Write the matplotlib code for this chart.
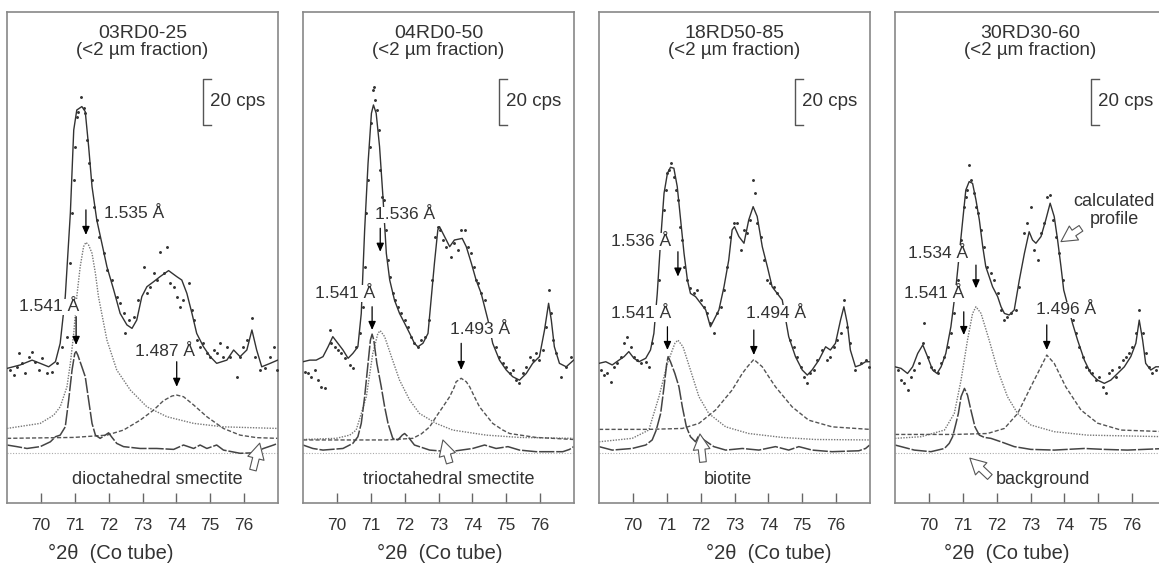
import matplotlib
matplotlib.use("Agg")
import matplotlib.pyplot as plt

plt.rcParams['font.family'] = ['Liberation Sans', 'DejaVu Sans']

# ---- panel titles / labels ----
titles = ['03RD0-25', '04RD0-50', '18RD50-85', '30RD30-60']
phase_labels = ['dioctahedral smectite', 'trioctahedral smectite', 'biotite', 'background']
tick_vals = [70, 71, 72, 73, 74, 75, 76]

# ---- panel 1: 03RD0-25 ----
p1_prof_x = [69.00, 69.39, 69.74, 69.98, 70.23, 70.43, 70.57, 70.72, 70.87, 70.97, 71.06, 71.21, 71.31, 71.41,
             71.51, 71.65, 71.80, 71.95, 72.15, 72.34, 72.54, 72.69, 72.83, 72.98, 73.13, 73.33, 73.52, 73.77,
             74.01, 74.16, 74.31, 74.46, 74.60, 74.80, 75.00, 75.19, 75.49, 75.69, 75.88, 76.08, 76.23, 76.37,
             76.52, 76.77, 76.99]
p1_prof_y = [36.8, 38.3, 40.4, 39.0, 37.5, 39.7, 47.7, 68.0, 104.2, 140.4, 149.1, 150.6, 148.4, 133.2,
             115.8, 101.3, 91.2, 81.0, 70.9, 60.7, 55.7, 54.2, 57.8, 68.0, 72.3, 74.5, 76.7, 79.3,
             76.7, 75.2, 69.4, 60.7, 52.0, 46.2, 41.9, 39.0, 40.4, 44.8, 41.9, 44.8, 53.5, 44.8,
             37.5, 39.0, 40.4]
p1_dots_x = [69.10, 69.20, 69.29, 69.34, 69.44, 69.54, 69.64, 69.74, 69.84, 69.93, 70.03, 70.18, 70.33, 70.47,
             70.62, 70.77, 70.82, 70.87, 70.92, 70.97, 71.02, 71.06, 71.11, 71.18, 71.26, 71.31, 71.36, 71.41,
             71.51, 71.58, 71.65, 71.73, 71.85, 71.95, 72.10, 72.24, 72.34, 72.44, 72.49, 72.59, 72.74, 72.88,
             73.03, 73.13, 73.23, 73.33, 73.42, 73.52, 73.62, 73.72, 73.82, 73.92, 74.01, 74.11, 74.21, 74.36,
             74.46, 74.51, 74.60, 74.70, 74.80, 74.90, 75.00, 75.10, 75.19, 75.29, 75.39, 75.49, 75.59, 75.78,
             75.88, 75.98, 76.08, 76.23, 76.33, 76.47, 76.62, 76.77, 76.87, 76.96]
p1_dots_y = [36.1, 33.9, 37.5, 43.3, 39.0, 34.6, 41.9, 44.1, 39.7, 36.1, 41.2, 34.6, 35.4, 39.0,
             46.2, 50.6, 62.2, 82.5, 104.2, 118.7, 133.2, 146.2, 148.4, 154.9, 149.9, 147.7, 136.1, 125.9,
             118.7, 107.1, 101.3, 94.1, 86.8, 79.6, 75.2, 68.0, 65.1, 60.7, 52.0, 57.8, 59.3, 66.5,
             81.0, 69.4, 72.3, 78.1, 75.2, 87.5, 78.1, 89.7, 73.8, 72.3, 68.0, 63.6, 66.5, 73.8,
             62.2, 57.8, 49.1, 46.2, 47.7, 43.3, 41.9, 44.8, 43.3, 47.7, 41.9, 46.2, 41.9, 33.2,
             41.9, 46.2, 49.1, 58.6, 41.9, 36.1, 36.8, 41.9, 46.2, 36.1]
# 1.541 A component (with residual)
p1_a_x = [69.00, 69.29, 69.59, 69.98, 70.28, 70.43, 70.57, 70.72, 70.82, 70.92, 71.00, 71.04, 71.09, 71.21,
          71.31, 71.41, 71.51, 71.61, 71.75, 71.90, 72.00, 72.10, 72.24, 72.44, 72.93, 73.42, 73.92, 74.21,
          74.51, 74.70, 74.90, 75.19, 75.39, 75.88, 76.28, 76.57, 76.87, 76.99]
p1_a_y = [3.5, 2.8, 2.0, 2.8, 4.9, 7.1, 7.8, 11.4, 23.0, 36.1, 43.3, 44.1, 42.6, 37.5,
          33.2, 23.0, 12.9, 7.8, 6.4, 7.8, 8.8, 6.8, 4.2, 2.8, 2.0, 2.0, 1.6, 3.5,
          2.0, 3.5, 2.0, 3.5, 1.3, -0.1, 0.1, 2.0, 3.5, 4.2]
# 1.535 A component
p1_b_x = [69.00, 69.98, 70.38, 70.57, 70.77, 70.87, 70.97, 71.06, 71.16, 71.26, 71.33, 71.41, 71.51, 71.61,
          71.70, 71.95, 72.24, 72.64, 73.13, 73.72, 74.51, 75.39, 76.99]
p1_b_y = [10.7, 12.9, 16.5, 20.1, 28.8, 39.0, 52.0, 68.0, 80.9, 89.7, 91.6, 90.4, 86.8, 78.1,
          68.0, 49.1, 36.1, 27.4, 20.1, 15.8, 12.9, 11.4, 10.7]
# 1.487 A component
p1_c_x = [69.00, 70.97, 71.95, 72.44, 72.93, 73.33, 73.62, 73.87, 74.01, 74.21, 74.51, 74.90, 75.39, 75.88,
          76.37, 76.99]
p1_c_y = [6.4, 6.8, 7.8, 10.0, 14.3, 18.7, 22.8, 24.8, 25.2, 24.5, 20.9, 15.8, 10.7, 7.8,
          6.7, 6.4]

# ---- panel 2: 04RD0-50 ----
p2_prof_x = [69.00, 69.20, 69.39, 69.59, 69.74, 69.88, 70.03, 70.18, 70.33, 70.47, 70.62, 70.72, 70.82, 70.92,
             71.02, 71.08, 71.16, 71.26, 71.36, 71.46, 71.56, 71.70, 71.85, 72.00, 72.15, 72.29, 72.39, 72.54,
             72.69, 72.79, 72.88, 72.98, 73.03, 73.13, 73.33, 73.47, 73.70, 73.82, 73.97, 74.11, 74.26, 74.36,
             74.46, 74.60, 74.80, 75.00, 75.19, 75.39, 75.59, 75.78, 75.98, 76.13, 76.25, 76.33, 76.42, 76.57,
             76.77, 76.99]
p2_prof_y = [39.7, 40.4, 40.4, 41.9, 46.2, 50.6, 47.7, 44.8, 41.2, 43.3, 46.2, 60.7, 97.0, 125.9,
             147.7, 151.3, 147.7, 133.2, 111.4, 86.8, 75.2, 66.5, 60.7, 56.4, 52.0, 47.7, 46.2, 47.7,
             52.0, 68.0, 82.5, 97.0, 98.4, 95.5, 89.7, 92.6, 93.3, 89.7, 82.5, 75.2, 69.4, 63.6,
             57.8, 47.7, 40.4, 36.1, 33.2, 31.7, 34.6, 39.0, 41.9, 53.5, 65.1, 57.8, 46.2, 39.0,
             37.5, 40.4]
p2_dots_x = [69.05, 69.15, 69.25, 69.34, 69.44, 69.54, 69.64, 69.79, 69.84, 69.93, 70.03, 70.13, 70.23, 70.38,
             70.47, 70.57, 70.67, 70.77, 70.82, 70.87, 70.92, 70.97, 71.02, 71.06, 71.11, 71.14, 71.18, 71.24,
             71.28, 71.34, 71.38, 71.44, 71.51, 71.58, 71.65, 71.73, 71.80, 71.90, 72.00, 72.10, 72.20, 72.29,
             72.39, 72.49, 72.59, 72.72, 72.82, 72.89, 72.98, 73.05, 73.13, 73.23, 73.38, 73.47, 73.57, 73.67,
             73.77, 73.87, 73.97, 74.06, 74.11, 74.16, 74.26, 74.36, 74.70, 74.80, 74.90, 75.00, 75.10, 75.19,
             75.29, 75.39, 75.49, 75.59, 75.69, 75.78, 75.88, 75.98, 76.08, 76.18, 76.25, 76.33, 76.37, 76.47,
             76.62, 76.77, 76.92]
p2_dots_y = [35.4, 34.6, 33.2, 36.1, 31.7, 28.8, 28.1, 53.5, 47.7, 46.2, 44.8, 43.3, 41.2, 38.3,
             36.8, 46.2, 52.0, 63.6, 81.0, 104.2, 118.7, 133.2, 143.3, 157.8, 159.3, 153.5, 149.1, 140.4,
             123.0, 111.4, 110.0, 97.0, 83.9, 76.7, 69.4, 66.5, 63.6, 60.7, 57.8, 54.9, 50.6, 47.7,
             46.2, 49.1, 50.6, 57.8, 75.2, 94.1, 98.4, 97.0, 92.6, 89.7, 85.4, 91.2, 88.3, 97.0,
             97.0, 89.7, 86.8, 81.0, 75.2, 73.8, 69.4, 66.5, 46.2, 41.9, 39.0, 37.5, 34.6, 36.1,
             31.7, 30.3, 34.6, 37.5, 41.9, 40.4, 43.3, 40.4, 44.8, 54.9, 70.9, 60.7, 49.1, 43.3,
             33.2, 37.5, 41.9]
p2_a_x = [69.00, 69.29, 69.59, 70.18, 70.47, 70.62, 70.72, 70.82, 70.92, 70.99, 71.04, 71.09, 71.18, 71.31,
          71.41, 71.51, 71.65, 71.80, 71.93, 72.00, 72.10, 72.29, 72.74, 73.33, 74.01, 74.36, 74.70, 75.05,
          75.39, 75.88, 76.67, 76.87, 76.99]
p2_a_y = [3.5, 2.0, 1.3, 2.0, 4.2, 7.1, 12.9, 24.5, 39.0, 49.1, 51.7, 49.1, 39.0, 28.8,
          20.1, 12.9, 6.4, 5.7, 7.8, 8.5, 7.1, 3.5, 1.3, 0.6, 2.0, 3.5, 2.0, 2.8,
          1.3, 0.6, 0.6, 1.6, 2.8]
p2_b_x = [69.00, 69.98, 70.38, 70.57, 70.72, 70.87, 71.06, 71.21, 71.28, 71.41, 71.61, 71.85, 72.15, 72.44,
          72.93, 73.42, 74.41, 75.39, 76.99]
p2_b_y = [5.9, 6.4, 7.8, 10.0, 17.2, 24.5, 43.3, 52.0, 53.2, 50.6, 41.9, 31.7, 23.0, 17.2,
          12.9, 10.0, 7.8, 6.8, 6.4]
p2_c_x = [69.00, 71.46, 72.24, 72.49, 72.74, 72.93, 73.13, 73.33, 73.47, 73.52, 73.67, 73.82, 73.92, 74.06,
          74.21, 74.60, 74.90, 75.10, 75.88, 76.99]
p2_c_y = [5.7, 5.7, 6.4, 8.3, 11.4, 15.8, 20.1, 24.5, 28.8, 31.0, 32.5, 31.0, 28.8, 24.5,
          20.1, 12.9, 10.0, 8.5, 6.8, 5.9]

# ---- panel 3: 18RD50-85 ----
p3_prof_x = [69.00, 69.20, 69.39, 69.59, 69.74, 69.88, 70.03, 70.18, 70.38, 70.52, 70.62, 70.72, 70.82, 70.92,
             71.02, 71.11, 71.21, 71.31, 71.41, 71.51, 71.61, 71.70, 71.85, 72.00, 72.15, 72.29, 72.39, 72.54,
             72.69, 72.83, 72.93, 73.00, 73.13, 73.28, 73.42, 73.55, 73.67, 73.82, 73.97, 74.11, 74.26, 74.41,
             74.60, 74.80, 75.00, 75.15, 75.29, 75.49, 75.69, 75.83, 75.98, 76.13, 76.23, 76.33, 76.42, 76.57,
             76.72, 76.87, 76.99]
p3_prof_y = [39.0, 39.7, 38.3, 40.4, 41.9, 44.1, 41.2, 39.7, 41.2, 44.8, 52.0, 69.4, 92.6, 112.9,
             121.6, 124.2, 123.8, 115.8, 101.3, 86.8, 75.2, 69.4, 68.0, 65.1, 62.2, 54.9, 57.8, 62.2,
             72.3, 83.9, 97.0, 98.4, 94.1, 91.2, 101.3, 107.1, 102.8, 89.7, 81.0, 72.3, 69.4, 66.5,
             50.6, 41.9, 36.1, 33.9, 36.1, 40.4, 46.2, 44.8, 47.7, 57.8, 63.6, 56.4, 44.8, 37.5,
             38.3, 39.7, 39.7]
p3_dots_x = [69.05, 69.15, 69.25, 69.34, 69.44, 69.54, 69.64, 69.74, 69.84, 69.93, 70.03, 70.13, 70.23, 70.38,
             70.47, 70.57, 70.67, 70.77, 70.85, 70.92, 70.97, 71.02, 71.08, 71.14, 71.21, 71.26, 71.32, 71.38,
             71.44, 71.51, 71.61, 71.70, 71.80, 71.90, 72.00, 72.10, 72.20, 72.29, 72.39, 72.49, 72.59, 72.69,
             72.79, 72.88, 72.98, 73.08, 73.18, 73.28, 73.38, 73.47, 73.55, 73.60, 73.67, 73.77, 73.87, 73.97,
             74.06, 74.16, 74.26, 74.46, 74.65, 74.75, 74.85, 74.95, 75.05, 75.15, 75.24, 75.34, 75.44, 75.59,
             75.74, 75.83, 75.93, 76.03, 76.13, 76.23, 76.33, 76.42, 76.57, 76.72, 76.87, 76.96]
p3_dots_y = [36.1, 33.9, 34.6, 31.0, 37.5, 39.0, 41.9, 47.7, 50.6, 46.2, 41.9, 40.4, 39.0, 39.7,
             37.5, 47.7, 57.8, 75.2, 92.6, 105.7, 114.3, 121.6, 123.0, 125.9, 120.1, 114.3, 110.0, 98.4,
             92.6, 81.0, 75.2, 71.6, 69.4, 70.9, 66.5, 63.6, 60.7, 56.4, 52.0, 60.7, 63.6, 70.9,
             81.0, 94.1, 99.9, 99.9, 88.3, 97.0, 95.5, 101.3, 118.7, 112.9, 99.9, 94.1, 83.9, 75.2,
             73.8, 72.3, 69.4, 57.8, 49.1, 46.2, 41.9, 37.5, 33.2, 30.3, 34.6, 36.1, 40.4, 44.8,
             40.4, 41.9, 46.2, 49.1, 52.0, 66.5, 54.9, 47.7, 36.1, 39.0, 40.4, 37.5]
p3_a_x = [69.00, 69.39, 69.98, 70.38, 70.57, 70.69, 70.82, 70.92, 71.00, 71.04, 71.11, 71.24, 71.36, 71.46,
          71.58, 71.70, 71.85, 71.95, 72.10, 72.39, 72.74, 73.23, 73.72, 74.21, 74.60, 74.90, 75.29, 75.88,
          76.67, 76.87, 76.99]
p3_a_y = [2.8, 1.3, 2.0, 3.5, 5.7, 10.0, 17.2, 28.8, 39.0, 41.9, 39.7, 34.6, 28.8, 20.1,
          11.4, 7.1, 4.9, 7.8, 5.7, 2.8, 1.3, 2.0, 1.3, 2.8, 1.3, 2.8, 1.3, 0.6,
          1.0, 2.0, 3.5]
p3_b_x = [69.00, 69.98, 70.47, 70.77, 71.02, 71.24, 71.33, 71.48, 71.70, 71.95, 72.24, 72.74, 73.42, 74.41,
          75.39, 76.99]
p3_b_y = [4.9, 6.4, 10.0, 24.5, 39.0, 47.7, 49.1, 46.2, 36.1, 24.5, 17.2, 11.4, 8.5, 6.8,
          5.9, 5.7]
p3_c_x = [69.00, 70.47, 71.46, 71.95, 72.44, 72.93, 73.23, 73.38, 73.57, 73.82, 74.01, 74.21, 74.70, 75.19,
          75.88, 76.99]
p3_c_y = [10.3, 10.3, 10.7, 12.9, 18.7, 27.4, 34.6, 37.5, 40.7, 37.5, 33.2, 28.8, 20.1, 14.3,
          11.4, 10.3]

# ---- panel 4: 30RD30-60 ----
p4_prof_x = [69.00, 69.18, 69.37, 69.52, 69.67, 69.82, 69.96, 70.11, 70.24, 70.36, 70.50, 70.65, 70.80, 70.90,
             71.00, 71.09, 71.19, 71.29, 71.39, 71.49, 71.59, 71.68, 71.78, 71.88, 72.03, 72.13, 72.23, 72.37,
             72.52, 72.67, 72.82, 72.96, 73.06, 73.16, 73.31, 73.45, 73.58, 73.70, 73.80, 73.90, 73.98, 74.24,
             74.39, 74.59, 74.78, 74.98, 75.18, 75.37, 75.57, 75.77, 75.96, 76.11, 76.21, 76.31, 76.40, 76.55,
             76.70, 77.00]
p4_prof_y = [37.5, 36.8, 34.6, 37.5, 43.3, 47.0, 41.9, 36.1, 34.6, 37.5, 43.3, 54.9, 72.3, 86.8,
             101.3, 114.3, 118.0, 117.2, 110.0, 101.3, 89.7, 81.0, 76.7, 72.3, 68.0, 63.6, 60.7, 60.0,
             62.2, 75.2, 86.8, 96.2, 92.6, 91.2, 94.1, 101.3, 108.6, 102.8, 92.6, 81.0, 70.9, 56.4,
             49.1, 40.4, 34.6, 31.7, 30.3, 31.7, 34.6, 37.5, 41.9, 47.7, 57.8, 49.1, 39.0, 36.1,
             37.5, 37.5]
p4_dots_x = [69.08, 69.18, 69.28, 69.37, 69.47, 69.57, 69.72, 69.82, 69.87, 69.96, 70.06, 70.16, 70.26, 70.36,
             70.46, 70.55, 70.65, 70.75, 70.85, 70.95, 71.03, 71.09, 71.14, 71.19, 71.24, 71.32, 71.39, 71.46,
             71.54, 71.64, 71.73, 71.83, 71.93, 72.03, 72.13, 72.23, 72.32, 72.42, 72.57, 72.67, 72.82, 72.91,
             73.01, 73.11, 73.21, 73.31, 73.41, 73.50, 73.58, 73.65, 73.75, 73.85, 73.95, 74.24, 74.34, 74.44,
             74.54, 74.63, 74.73, 74.83, 74.93, 75.03, 75.13, 75.22, 75.32, 75.42, 75.52, 75.62, 75.72, 75.81,
             75.91, 76.01, 76.11, 76.21, 76.31, 76.40, 76.50, 76.60, 76.70]
p4_dots_y = [36.1, 31.7, 30.3, 27.4, 33.2, 36.1, 39.0, 47.7, 56.4, 41.9, 37.5, 36.1, 34.6, 39.0,
             41.9, 46.2, 52.0, 60.7, 75.2, 92.6, 107.1, 111.4, 114.3, 125.2, 118.7, 112.9, 107.1, 104.2,
             97.0, 89.7, 81.0, 78.1, 75.2, 69.4, 62.2, 57.8, 59.3, 60.7, 62.2, 72.3, 95.5, 99.9,
             107.1, 88.3, 83.9, 95.5, 99.9, 111.4, 112.2, 101.3, 94.1, 86.8, 75.2, 57.8, 52.0, 46.2,
             41.9, 37.5, 36.1, 34.6, 31.7, 33.2, 28.8, 25.9, 34.6, 36.1, 33.2, 37.5, 40.4, 41.9,
             43.3, 46.2, 52.0, 62.2, 52.0, 43.3, 37.5, 34.6, 36.1]
p4_a_x = [69.00, 69.57, 70.06, 70.46, 70.60, 70.70, 70.80, 70.87, 70.95, 71.05, 71.14, 71.24, 71.36, 71.49,
          71.64, 71.83, 72.13, 72.52, 73.01, 73.70, 74.59, 75.17, 75.86, 77.00]
p4_a_y = [3.5, 1.3, 0.6, 2.0, 4.2, 7.1, 12.9, 17.2, 24.5, 28.1, 25.2, 18.7, 11.4, 7.8,
          6.8, 6.4, 4.9, 2.8, 1.6, 1.3, 2.0, 1.6, 1.3, 2.0]
p4_b_x = [69.00, 69.77, 70.46, 70.75, 70.95, 71.14, 71.29, 71.39, 71.54, 71.78, 72.03, 72.32, 72.62, 73.01,
          73.70, 74.68, 77.00]
p4_b_y = [6.4, 7.1, 10.0, 17.2, 31.7, 49.1, 60.7, 63.6, 60.7, 49.1, 36.1, 24.5, 17.2, 12.2,
          9.3, 7.8, 7.1]
p4_c_x = [69.00, 70.75, 71.73, 72.23, 72.62, 73.01, 73.36, 73.48, 73.70, 74.04, 74.49, 74.98, 75.67, 77.00]
p4_c_y = [8.1, 8.1, 8.5, 10.7, 17.2, 28.8, 39.0, 42.6, 39.0, 28.8, 18.7, 13.0, 10.0, 9.3]

# peak annotations: (text, text x, text y, arrow x, arrow top y, arrow bottom y)
p1_peaks = [('1.535 Å', 71.85, 104.2, 71.33, 105.7, 94.8),
            ('1.541 Å', 69.34, 63.6, 71.04, 59.3, 47.0),
            ('1.487 Å', 72.79, 44.1, 74.01, 39.7, 28.8)]
p2_peaks = [('1.536 Å', 71.14, 103.5, 71.28, 97.7, 87.5),
            ('1.541 Å', 69.34, 69.4, 71.04, 63.6, 53.5),
            ('1.493 Å', 73.33, 53.5, 73.67, 47.7, 36.1)]
p3_peaks = [('1.536 Å', 69.34, 91.9, 71.33, 87.5, 76.7),
            ('1.541 Å', 69.34, 60.7, 71.02, 54.9, 44.8),
            ('1.494 Å', 73.33, 60.7, 73.57, 53.5, 42.6)]
p4_peaks = [('1.534 Å', 69.37, 86.8, 71.39, 81.7, 71.6),
            ('1.541 Å', 69.28, 69.4, 71.03, 61.4, 51.3),
            ('1.496 Å', 73.16, 62.2, 73.48, 55.7, 44.8)]

# phase label position (x centre, y) and hollow arrow (tail x, tail y, tip x, tip y)
phase_pos = [(73.44, -11.7), (73.29, -11.7), (72.81, -11.7), (73.38, -11.7)]
open_arrows = [(76.26, -7.4, 76.46, 4.3), (73.33, -4.3, 73.13, 5.7),
               (72.07, -3.9, 71.98, 8.3), (71.80, -10.4, 71.21, -2.2)]
xlabel_pos = [0.384, 0.506, 0.627, 0.413]

panels = [
    (p1_prof_x, p1_prof_y, p1_dots_x, p1_dots_y, p1_a_x, p1_a_y, p1_b_x, p1_b_y, p1_c_x, p1_c_y, p1_peaks),
    (p2_prof_x, p2_prof_y, p2_dots_x, p2_dots_y, p2_a_x, p2_a_y, p2_b_x, p2_b_y, p2_c_x, p2_c_y, p2_peaks),
    (p3_prof_x, p3_prof_y, p3_dots_x, p3_dots_y, p3_a_x, p3_a_y, p3_b_x, p3_b_y, p3_c_x, p3_c_y, p3_peaks),
    (p4_prof_x, p4_prof_y, p4_dots_x, p4_dots_y, p4_a_x, p4_a_y, p4_b_x, p4_b_y, p4_c_x, p4_c_y, p4_peaks),
]

fig = plt.figure(figsize=(11.59, 5.64), dpi=100)
lefts = [7, 303, 599, 895]
txt = '#333333'
hollow = 'simple,head_length=0.7,head_width=0.75,tail_width=0.3'

for i, (px, py, dx, dy, ax_, ay_, bx, by, cx, cy, peaks) in enumerate(panels):
    ax = fig.add_axes([lefts[i] / 1159, 61 / 564, 271 / 1159, 491 / 564])
    ax.set_xlim(69, 77)
    ax.set_ylim(-21.7, 191.7)

    ax.axhline(0, color='#aaaaaa', lw=0.8, ls=(0, (1, 1.5)), zorder=1)
    ax.plot(bx, by, color='#777777', lw=1.0, ls=(0, (1, 1)), zorder=2)
    ax.plot(cx, cy, color='#555555', lw=1.0, ls=(0, (3, 1.5)), zorder=2)
    ax.plot(ax_, ay_, color='#444444', lw=1.1, ls=(0, (10, 1.2)), zorder=2)
    ax.plot(px, py, color='#333333', lw=1.0, zorder=3)
    ax.plot(dx, dy, ls='none', marker='o', ms=1.1, color='#333333', zorder=3)

    for label, tx, ty, arx, ary0, ary1 in peaks:
        ax.text(tx, ty, label, fontsize=12.5, color=txt, ha='left', va='center', zorder=4,
                bbox=dict(fc='white', ec='none', pad=0.5))
        ax.annotate('', xy=(arx, ary1), xytext=(arx, ary0), zorder=5,
                    arrowprops=dict(arrowstyle='-|>,head_length=0.5,head_width=0.22',
                                    color='black', lw=0.9, shrinkA=0, shrinkB=0))

    # 20 cps scale bar
    ax.plot([75.02, 74.78, 74.78, 75.02], [162.6, 162.6, 142.6, 142.6], color='#555555', lw=1.0)
    ax.text(74.98, 152.6, '20 cps', fontsize=13.5, color=txt, ha='left', va='center')

    ax.text(0.5, 0.957, titles[i], transform=ax.transAxes, fontsize=14, color=txt, ha='center', va='center')
    ax.text(0.5, 0.921, '(<2 µm fraction)', transform=ax.transAxes, fontsize=13.5, color=txt,
            ha='center', va='center')

    lx, ly = phase_pos[i]
    if i == 3:
        ax.text(71.98, ly, phase_labels[i], fontsize=13, color=txt, ha='left', va='center')
    else:
        ax.text(lx, ly, phase_labels[i], fontsize=13, color=txt, ha='center', va='center')
    t0x, t0y, t1x, t1y = open_arrows[i]
    ax.annotate('', xy=(t1x, t1y), xytext=(t0x, t0y), zorder=5,
                arrowprops=dict(arrowstyle=hollow, fc='white', ec='#555555', lw=0.8,
                                mutation_scale=16, shrinkA=0, shrinkB=0))

    if i == 3:
        ax.text(75.47, 105.4, 'calculated\nprofile', fontsize=13, color=txt, ha='center', va='center',
                linespacing=1.05)
        ax.annotate('', xy=(73.90, 91.9), xytext=(74.49, 97.7), zorder=5,
                    arrowprops=dict(arrowstyle=hollow, fc='white', ec='#555555', lw=0.8,
                                    mutation_scale=16, shrinkA=0, shrinkB=0))

    ax.set_xticks(tick_vals)
    ax.set_xticklabels([str(t) for t in tick_vals])
    ax.set_yticks([])
    ax.tick_params(axis='x', direction='in', length=7, width=1, color='#666666',
                   labelsize=12.5, labelcolor=txt, pad=11)
    for s in ax.spines.values():
        s.set_color('#888888')
        s.set_linewidth(1.2)
    ax.text(xlabel_pos[i], -0.102, '°2θ  (Co tube)', transform=ax.transAxes, fontsize=14.5,
            color=txt, ha='center', va='center')

fig.savefig('out.png', dpi=100)
